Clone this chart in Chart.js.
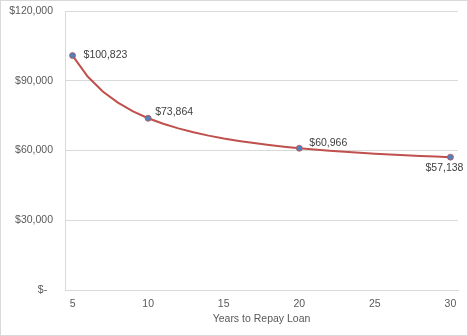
<!DOCTYPE html>
<html>
<head>
<meta charset="utf-8">
<script src="https://cdn.jsdelivr.net/npm/chart.js@4"></script>
<style>
  html, body { margin: 0; padding: 0; background: #fff; }
  #wrap { width: 468px; height: 336px; position: relative; }
</style>
</head>
<body>
<div id="wrap"><canvas id="c" width="468" height="336"></canvas></div>
<script>
// Repayment term in years
const years = [5, 6, 7, 8, 9, 10, 11, 12, 13, 14, 15, 16, 17, 18, 19, 20,
               21, 22, 23, 24, 25, 26, 27, 28, 29, 30];
// Amount for each term
const amounts = [100823, 91798, 85373, 80574, 76858, 73864, 71495, 69502, 67826, 66401,
                 65176, 64112, 63182, 62364, 61638, 60966, 60414, 59894, 59426, 59002,
                 58617, 58266, 57946, 57653, 57385, 57138];
// Terms that get a marker and a value label
const labelledYears = [5, 10, 20, 30];
const yTicks = [0, 30000, 60000, 90000, 120000];

const fmtMoney = v => v === 0 ? '$-  ' : '$' + v.toLocaleString('en-US');

// Label placement relative to each marker: [dx, dy, align]
const labelPlacement = {
  5:  [11, 0, 'left'],
  10: [7, -6, 'left'],
  20: [10, -5, 'left'],
  30: [-6, 11, 'center']
};

const frame = {
  id: 'frame',
  beforeDraw(chart) {
    const ctx = chart.ctx;
    ctx.save();
    ctx.fillStyle = '#ffffff';
    ctx.fillRect(0, 0, chart.width, chart.height);
    ctx.strokeStyle = '#d9d9d9';
    ctx.lineWidth = 1;
    ctx.strokeRect(0.5, 0.5, chart.width - 1, chart.height - 1);
    ctx.restore();
  }
};

const valueLabels = {
  id: 'valueLabels',
  afterDatasetsDraw(chart) {
    const ctx = chart.ctx;
    const meta = chart.getDatasetMeta(0);
    ctx.save();
    ctx.font = '10.5px "Liberation Sans", Arial, sans-serif';
    ctx.fillStyle = '#404040';
    ctx.textBaseline = 'middle';
    years.forEach((yr, i) => {
      if (!labelledYears.includes(yr)) return;
      const pt = meta.data[i];
      const [dx, dy, align] = labelPlacement[yr];
      ctx.textAlign = align;
      ctx.fillText('$' + amounts[i].toLocaleString('en-US'), pt.x + dx, pt.y + dy);
    });
    ctx.restore();
  }
};

const markerRadius = years.map(y => labelledYears.includes(y) ? 3 : 0);

new Chart(document.getElementById('c'), {
  type: 'line',
  data: {
    labels: years,
    datasets: [{
      data: amounts,
      borderColor: '#C0504D',
      borderWidth: 2,
      tension: 0,
      pointRadius: markerRadius,
      pointHoverRadius: markerRadius,
      pointBackgroundColor: '#4F81BD',
      pointBorderColor: '#C0504D',
      pointBorderWidth: 0.8
    }]
  },
  options: {
    responsive: false,
    animation: false,
    devicePixelRatio: 1,
    layout: { padding: { left: 0, right: 10, top: 11, bottom: 6 } },
    plugins: {
      legend: { display: false },
      tooltip: { enabled: false }
    },
    scales: {
      x: {
        type: 'category',
        offset: true,
        grid: { display: false, drawTicks: false },
        border: { display: true, color: '#d9d9d9', width: 1 },
        ticks: {
          autoSkip: false,
          maxRotation: 0,
          padding: 8,
          color: '#595959',
          font: { family: '"Liberation Sans", Arial, sans-serif', size: 10.5 },
          callback: function (v) {
            const lbl = this.getLabelForValue(v);
            return lbl % 5 === 0 ? String(lbl) : '';
          }
        },
        title: {
          display: true,
          text: 'Years to Repay Loan',
          color: '#595959',
          font: { family: '"Liberation Sans", Arial, sans-serif', size: 10.5 },
          padding: { top: 0, bottom: 5 }
        },
        afterFit(scale) { scale.height = 40; }
      },
      y: {
        min: 0,
        max: 120000,
        afterBuildTicks(scale) { scale.ticks = yTicks.map(v => ({ value: v })); },
        grid: { color: '#d9d9d9', drawTicks: false },
        border: { display: true, color: '#d9d9d9', width: 1 },
        ticks: {
          padding: 12,
          color: '#595959',
          font: { family: '"Liberation Sans", Arial, sans-serif', size: 10.5 },
          callback: v => fmtMoney(v)
        },
        afterFit(scale) {
          scale.width = 65;
          scale.paddingTop = 0;
          scale.paddingBottom = 0;
        }
      }
    }
  },
  plugins: [frame, valueLabels]
});
</script>
</body>
</html>
